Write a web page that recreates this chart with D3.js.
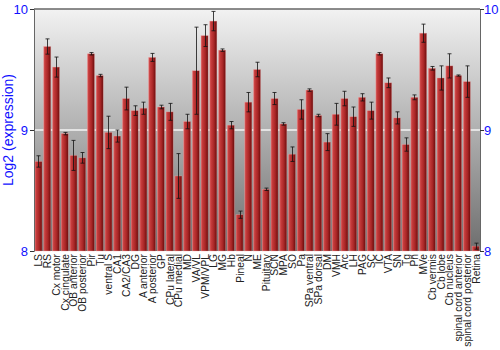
<!DOCTYPE html>
<html>
<head>
<meta charset="utf-8">
<script src="https://cdn.jsdelivr.net/npm/d3@7"></script>
<style>
  body { margin: 0; background: #fff; }
  text { font-family: "Liberation Sans", Arial, sans-serif; }
</style>
</head>
<body>
<div id="chart"></div>
<script>
// regions on the x axis
const regions = ['LS','RS','Cx motor','Cx cingulate','OB anterior','OB posterior','Pir','Tu',
  'ventral S','CA1','CA2/CA3','DG','A anterior','A posterior','GP','CPu lateral','CPu medial',
  'MD','VA/VL','VPM/VPL','LG','MG','Hb','Pineal','N','ME','Pituitary','SCN','MPA','SO','Pa',
  'SPa ventral','SPa dorsal','DM','VMH','Arc','LH','PAG','SC','IC','VTA','SN','Tg','Pn','MVe',
  'Cb vermis','Cb lobe','Cb nucleus','spinal cord anterior','spinal cord posterior','Retina']

// log2 expression
const expression = [8.74,9.69,9.52,8.97,8.79,8.77,9.63,9.45,8.98,8.95,9.26,9.16,9.18,9.60,9.19,9.15,8.62,
  9.07,9.49,9.78,9.90,9.66,9.04,8.30,9.23,9.50,8.51,9.26,9.05,8.80,9.17,9.33,9.12,8.90,9.13,
  9.26,9.11,9.27,9.16,9.63,9.39,9.10,8.88,9.27,9.80,9.51,9.43,9.53,9.45,9.40,8.04]

// half length of the error bars
const errors = [0.047,0.063,0.083,0.01,0.124,0.044,0.01,0.01,0.134,0.05,0.094,0.04,0.05,0.033,0.015,0.07,0.185,
  0.06,0.36,0.09,0.08,0.01,0.03,0.03,0.08,0.06,0.01,0.05,0.01,0.06,0.08,0.01,0.01,0.07,0.09,
  0.06,0.08,0.03,0.07,0.01,0.04,0.05,0.055,0.02,0.075,0.015,0.1,0.1,0.005,0.13,0.025]

const yTicks = [8, 9, 10]

const width = 500, height = 350
const margin = {top: 9, right: 20, bottom: 99, left: 34}

const svg = d3.select('#chart')
              .append('svg')
              .attr('width', width)
              .attr('height', height)

const defs = svg.append('defs')

const bg = defs.append('linearGradient')
               .attr('id', 'bg')
               .attr('x1', 0).attr('y1', 0).attr('x2', 0).attr('y2', 1)
bg.append('stop').attr('offset', '0%').attr('stop-color', '#f2f2f2')
bg.append('stop').attr('offset', '100%').attr('stop-color', '#6e6e6e')

const barGrad = defs.append('linearGradient')
                    .attr('id', 'bar')
                    .attr('x1', 0).attr('y1', 0).attr('x2', 1).attr('y2', 0)
barGrad.append('stop').attr('offset', '0%').attr('stop-color', '#d96060')
barGrad.append('stop').attr('offset', '20%').attr('stop-color', '#c63c3c')
barGrad.append('stop').attr('offset', '60%').attr('stop-color', '#a82626')
barGrad.append('stop').attr('offset', '100%').attr('stop-color', '#6a0c0c')

const x = d3.scaleBand()
            .domain(regions)
            .range([margin.left, width - margin.right])
            .paddingInner(0.18)
            .paddingOuter(0.1)

const y = d3.scaleLinear()
            .domain([8, 10])
            .range([height - margin.bottom, margin.top])

// plot background
svg.append('rect')
   .attr('x', margin.left)
   .attr('y', margin.top)
   .attr('width', width - margin.right - margin.left)
   .attr('height', height - margin.bottom - margin.top)
   .attr('fill', 'url(#bg)')

// grid line at 9
svg.append('line')
   .attr('x1', margin.left)
   .attr('x2', width - margin.right)
   .attr('y1', y(9))
   .attr('y2', y(9))
   .attr('stroke', '#f4f4f4')
   .attr('stroke-width', 1.5)

// bars
svg.selectAll('.bar')
   .data(regions)
   .join('rect')
   .attr('class', 'bar')
   .attr('x', d => x(d))
   .attr('width', x.bandwidth())
   .attr('y', (d, i) => y(expression[i]))
   .attr('height', (d, i) => y(8) - y(expression[i]))
   .attr('fill', 'url(#bar)')
   .attr('stroke', 'rgba(240,170,170,0.55)')
   .attr('stroke-width', 0.6)

// error bars
const err = svg.append('g')
               .attr('stroke', '#111')
               .attr('stroke-opacity', 0.8)
               .attr('stroke-width', 1)
regions.forEach((d, i) => {
  const cx = Math.round(x(d) + x.bandwidth() / 2) + 0.5
  const lo = y(Math.max(8, expression[i] - errors[i]))
  const hi = y(expression[i] + errors[i])
  err.append('line').attr('x1', cx).attr('x2', cx).attr('y1', lo).attr('y2', hi)
  err.append('line').attr('x1', cx - 2).attr('x2', cx + 2).attr('y1', lo).attr('y2', lo)
  err.append('line').attr('x1', cx - 2).attr('x2', cx + 2).attr('y1', hi).attr('y2', hi)
})

// frame lines
svg.append('line')
   .attr('x1', margin.left).attr('x2', width - margin.right)
   .attr('y1', margin.top).attr('y2', margin.top)
   .attr('stroke', '#666').attr('stroke-width', 1.5)

const leftAxis = svg.append('g')
   .attr('transform', `translate(${margin.left},0)`)
   .call(d3.axisLeft(y).tickValues(yTicks).tickSize(4).tickFormat(d3.format('d')))
const rightAxis = svg.append('g')
   .attr('transform', `translate(${width - margin.right},0)`)
   .call(d3.axisRight(y).tickValues(yTicks).tickSize(4).tickFormat(d3.format('d')))

;[leftAxis, rightAxis].forEach(a => {
  a.select('.domain').attr('stroke', '#666')
  a.selectAll('.tick line').attr('stroke', '#333')
  a.selectAll('.tick text')
   .attr('fill', '#1010ff')
   .attr('font-size', '13px')
})
leftAxis.selectAll('.tick text').attr('x', -6)
rightAxis.selectAll('.tick text').attr('x', 4)

// y title
svg.append('text')
   .attr('transform', `translate(13,${(margin.top + height - margin.bottom) / 2}) rotate(-90)`)
   .attr('text-anchor', 'middle')
   .attr('fill', '#1010ff')
   .attr('font-size', '14px')
   .text('Log2 (expression)')

// region labels
svg.selectAll('.xlabel')
   .data(regions)
   .join('text')
   .attr('class', 'xlabel')
   .attr('transform', d => `translate(${x(d) + x.bandwidth() / 2 + 4},${height - margin.bottom + 3}) rotate(-90)`)
   .attr('text-anchor', 'end')
   .attr('fill', '#222')
   .attr('font-size', '10.3px')
   .text(d => d)
</script>
</body>
</html>
